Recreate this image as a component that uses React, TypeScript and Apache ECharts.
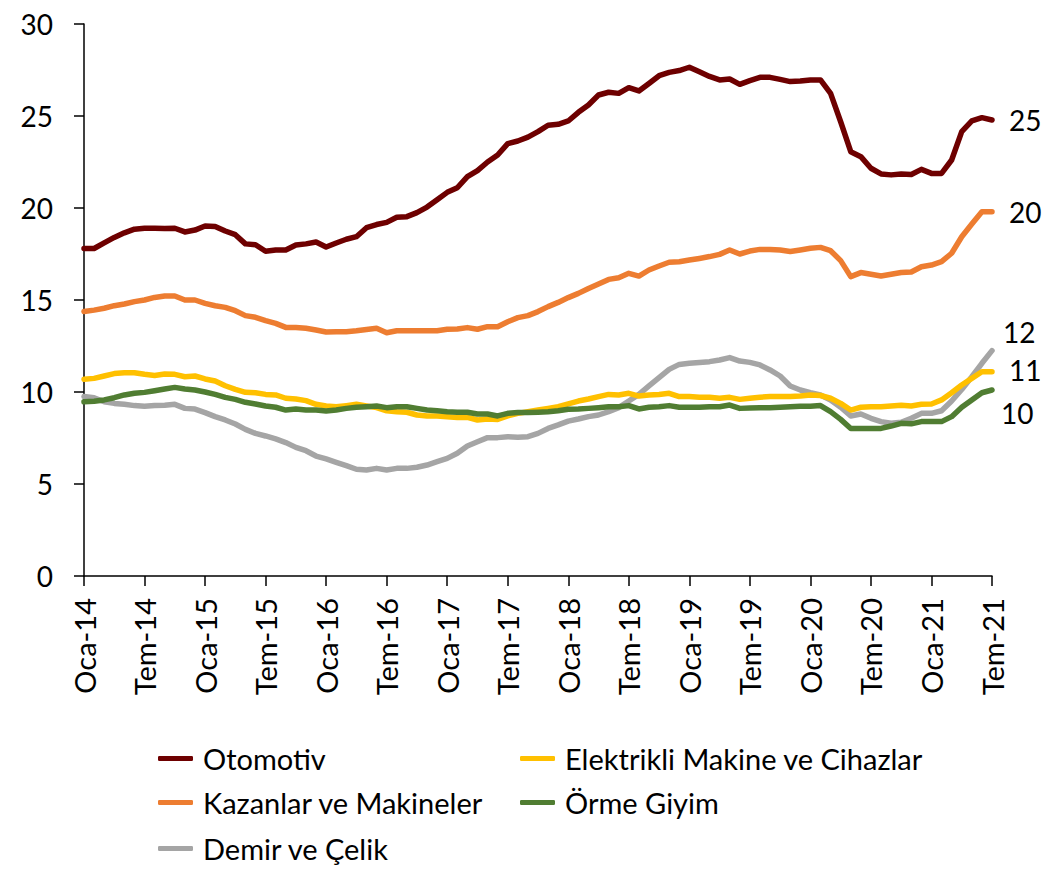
import React, { useEffect, useRef } from "react";
import * as echarts from "echarts";

const MONTHS = ["Oca", "Şub", "Mar", "Nis", "May", "Haz", "Tem", "Ağu", "Eyl", "Eki", "Kas", "Ara"];
const categories: string[] = [];
for (let y = 14; y <= 21; y++) {
  for (let m = 0; m < 12; m++) {
    if (y === 21 && m > 6) break;
    categories.push(`${MONTHS[m]}-${y}`);
  }
}

const otomotiv = [
  17.8, 17.8, 18.1, 18.4, 18.65, 18.85, 18.9, 18.9, 18.88, 18.9, 18.7, 18.8,
  19.02, 19.0, 18.75, 18.55, 18.05, 18.0, 17.65, 17.72, 17.72, 17.99, 18.05, 18.15,
  17.88, 18.1, 18.3, 18.44, 18.93, 19.1, 19.22, 19.5, 19.53, 19.75, 20.05, 20.45,
  20.85, 21.1, 21.7, 22.03, 22.5, 22.88, 23.5, 23.64, 23.85, 24.15, 24.5, 24.55,
  24.73, 25.2, 25.6, 26.14, 26.29, 26.23, 26.54, 26.36, 26.77, 27.19, 27.37, 27.47,
  27.65, 27.4, 27.15, 26.96, 27.01, 26.72, 26.92, 27.1, 27.1, 26.99, 26.87, 26.9,
  26.96, 26.96, 26.23, 24.69, 23.06, 22.79, 22.16, 21.85, 21.8, 21.85, 21.82, 22.1,
  21.88, 21.88, 22.61, 24.15, 24.73, 24.91, 24.78,
];

const kazanlar = [
  14.37, 14.45, 14.55, 14.69, 14.78, 14.91, 15.0, 15.14, 15.22, 15.22, 15.0, 15.0,
  14.82, 14.69, 14.6, 14.42, 14.15, 14.06, 13.88, 13.73, 13.51, 13.51, 13.46, 13.37,
  13.26, 13.28, 13.28, 13.33, 13.4, 13.46, 13.22, 13.33, 13.33, 13.33, 13.33, 13.33,
  13.41, 13.42, 13.5, 13.41, 13.55, 13.55, 13.82, 14.04, 14.15, 14.37, 14.64, 14.87,
  15.13, 15.36, 15.63, 15.87, 16.12, 16.21, 16.45, 16.3, 16.63, 16.85, 17.05, 17.08,
  17.17, 17.26, 17.36, 17.48, 17.72, 17.5, 17.66, 17.75, 17.75, 17.72, 17.64, 17.72,
  17.81, 17.86, 17.68, 17.14, 16.27, 16.49, 16.4, 16.3, 16.4, 16.49, 16.52, 16.81,
  16.9, 17.08, 17.54, 18.44, 19.13, 19.8, 19.8,
];

const demir = [
  9.75, 9.69, 9.47, 9.38, 9.33, 9.26, 9.22, 9.26, 9.28, 9.33, 9.11, 9.07,
  8.88, 8.66, 8.48, 8.26, 7.97, 7.75, 7.61, 7.45, 7.25, 6.99, 6.81, 6.52,
  6.36, 6.18, 6.0, 5.8, 5.76, 5.85, 5.76, 5.85, 5.85, 5.91, 6.03, 6.21,
  6.39, 6.67, 7.07, 7.3, 7.52, 7.52, 7.57, 7.54, 7.57, 7.75, 8.02, 8.21,
  8.42, 8.53, 8.66, 8.75, 8.93, 9.15, 9.51, 9.87, 10.33, 10.78, 11.23, 11.5,
  11.56, 11.6, 11.65, 11.74, 11.87, 11.68, 11.61, 11.47, 11.2, 10.87, 10.33, 10.11,
  9.96, 9.84, 9.57, 9.17, 8.7, 8.8, 8.57, 8.39, 8.3, 8.35, 8.57, 8.84,
  8.84, 8.98, 9.51, 10.14, 10.83, 11.56, 12.25,
];

const elektrikli = [
  10.69, 10.74, 10.87, 11.0, 11.04, 11.05, 10.96, 10.9, 10.98, 10.96, 10.83, 10.87,
  10.71, 10.6, 10.34, 10.14, 9.98, 9.96, 9.87, 9.84, 9.66, 9.62, 9.53, 9.33,
  9.24, 9.2, 9.26, 9.33, 9.24, 9.15, 8.98, 8.93, 8.9, 8.75, 8.7, 8.7,
  8.66, 8.62, 8.62, 8.48, 8.53, 8.51, 8.7, 8.84, 8.93, 9.02, 9.11, 9.2,
  9.35, 9.51, 9.62, 9.75, 9.87, 9.84, 9.93, 9.78, 9.84, 9.87, 9.93, 9.75,
  9.75, 9.72, 9.71, 9.66, 9.71, 9.6, 9.66, 9.72, 9.75, 9.75, 9.75, 9.78,
  9.84, 9.81, 9.66, 9.38, 9.02, 9.17, 9.2, 9.2, 9.24, 9.28, 9.24, 9.33,
  9.35, 9.57, 9.96, 10.38, 10.74, 11.1, 11.1,
];

const orme = [
  9.47, 9.5, 9.57, 9.69, 9.84, 9.93, 9.98, 10.07, 10.16, 10.25, 10.16, 10.11,
  10.0, 9.87, 9.71, 9.6, 9.44, 9.35, 9.24, 9.17, 9.02, 9.07, 9.02, 9.02,
  8.97, 9.02, 9.11, 9.17, 9.2, 9.24, 9.15, 9.2, 9.2, 9.11, 9.02, 8.98,
  8.93, 8.9, 8.9, 8.8, 8.8, 8.7, 8.84, 8.88, 8.88, 8.9, 8.93, 8.98,
  9.06, 9.07, 9.11, 9.15, 9.2, 9.2, 9.26, 9.08, 9.17, 9.2, 9.26, 9.17,
  9.17, 9.17, 9.2, 9.2, 9.29, 9.11, 9.13, 9.15, 9.15, 9.17, 9.2, 9.22,
  9.22, 9.26, 8.93, 8.51, 8.02, 8.02, 8.02, 8.02, 8.15, 8.3, 8.27, 8.39,
  8.39, 8.39, 8.66, 9.17, 9.57, 9.96, 10.11,
];

const seriesNames = [
  "Otomotiv",
  "Kazanlar ve Makineler",
  "Demir ve Çelik",
  "Elektrikli Makine ve Cihazlar",
  "Örme Giyim",
];
const seriesData = [otomotiv, kazanlar, demir, elektrikli, orme];
const seriesColors = ["#6E0000", "#ED7D31", "#A5A5A5", "#FFC000", "#507D32"];
const endLabelOffsets: [number, number][] = [[5, 0], [5, 0], [-1, -19], [5, -2], [-3, 23]];
const legendPos = [
  { left: 153, top: 739 },
  { left: 153, top: 783 },
  { left: 153, top: 829 },
  { left: 515, top: 739 },
  { left: 515, top: 783 },
];

const FONT = "Lato";

export default function App() {
  const ref = useRef<HTMLDivElement>(null);
  useEffect(() => {
    document.body.style.margin = "0";
    if (!ref.current) return;
    const chart = echarts.init(ref.current, null, { renderer: "svg" });
    const option: any = {
      animation: false,
      textStyle: { fontFamily: FONT },
      grid: { left: 84, right: 71, top: 24, bottom: 296, containLabel: false },
      legend: seriesNames.map((n, i) => ({
        data: [n],
        left: legendPos[i].left,
        top: legendPos[i].top,
        icon: "roundRect",
        itemWidth: 35,
        itemHeight: 5,
        itemGap: 17,
        selectedMode: false,
        textStyle: { fontSize: 29, color: "#000", fontFamily: FONT, padding: [0, 0, 0, 5] },
      })),
      xAxis: {
        type: "category",
        data: categories,
        boundaryGap: false,
        axisLine: { lineStyle: { color: "#000", width: 1.5 } },
        axisTick: { show: true, interval: 5, length: 10, lineStyle: { color: "#000", width: 1.5 } },
        axisLabel: {
          interval: 5,
          rotate: 90,
          margin: 22,
          fontSize: 29,
          color: "#000",
          fontFamily: FONT,
        },
        splitLine: { show: false },
      },
      yAxis: {
        type: "value",
        min: 0,
        max: 30,
        interval: 5,
        axisLine: { show: true, lineStyle: { color: "#000", width: 1.5 } },
        axisTick: { show: true, length: 10, lineStyle: { color: "#000", width: 1.5 } },
        axisLabel: { margin: 31, fontSize: 28, color: "#000", fontFamily: FONT },
        splitLine: { show: false },
      },
      series: seriesNames.map((n, i) => ({
        name: n,
        type: "line",
        data: seriesData[i],
        showSymbol: false,
        symbol: "none",
        color: seriesColors[i],
        lineStyle: { width: 5.5, color: seriesColors[i], cap: "round", join: "round" },
        endLabel: {
          show: true,
          formatter: (p: any) => String(Math.round(p.value)),
          fontSize: 28,
          color: "#000",
          fontFamily: FONT,
          distance: 12,
          offset: endLabelOffsets[i],
        },
      })),
    };
    chart.setOption(option);
    return () => chart.dispose();
  }, []);
  return <div ref={ref} style={{ width: 1063, height: 872 }} />;
}
